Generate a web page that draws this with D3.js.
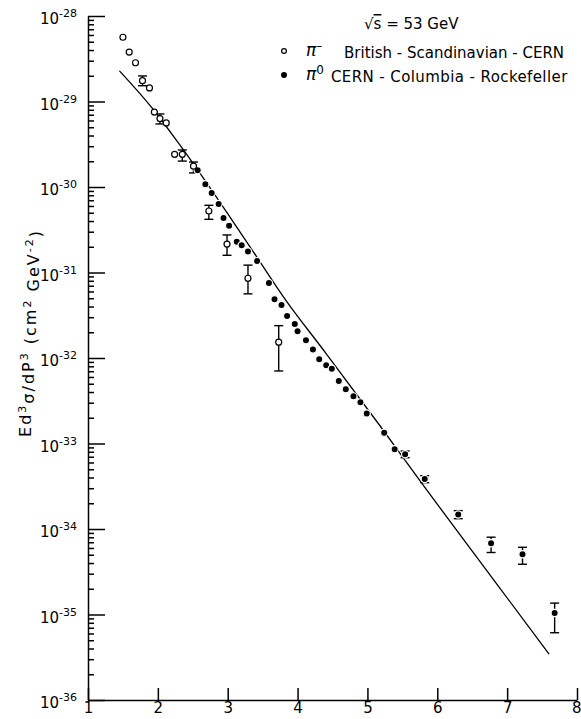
<!DOCTYPE html>
<html>
<head>
<meta charset="utf-8" />
<title>Invariant cross section at sqrt(s) = 53 GeV</title>
<style>
  body { margin: 0; background: #fff; }
  svg { font-family: "DejaVu Sans", sans-serif; }
  .axis path, .axis line { stroke: #000; stroke-width: 1.5; }
  .axis text { font-size: 15px; fill: #000; font-family: "DejaVu Sans", sans-serif; }
</style>
</head>
<body>
<script src="https://d3js.org/d3.v7.min.js"></script>
<script>

  // x ticks (p_T, GeV) and y decades (powers of ten)
  var xTicks = [1, 2, 3, 4, 5, 6, 7, 8];
  var yDecades = [-36, -35, -34, -33, -32, -31, -30, -29, -28];

  // pi- British-Scandinavian-CERN (open circles)
  var bscPt  = [1.50, 1.59, 1.68, 1.78, 1.88, 1.95, 2.03, 2.12, 2.24, 2.35, 2.51, 2.73, 2.99, 3.29, 3.73];
  var bscVal = [5.64e-29, 3.79e-29, 2.84e-29, 1.75e-29, 1.44e-29, 7.53e-30, 6.32e-30, 5.61e-30,
                2.41e-30, 2.41e-30, 1.75e-30, 5.24e-31, 2.15e-31, 8.57e-32, 1.53e-32];
  var bscLo  = [null, null, null, 1.53e-29, null, null, 5.46e-30, null,
                null, 2.01e-30, 1.46e-30, 4.19e-31, 1.59e-31, 5.63e-32, 7.05e-33];
  var bscHi  = [null, null, null, 1.99e-29, null, null, 7.15e-30, null,
                null, 2.71e-30, 1.96e-30, 6.11e-31, 2.75e-31, 1.22e-31, 2.39e-32];

  // pi0 CERN-Columbia-Rockefeller (filled circles)
  var ccrPt  = [2.57, 2.68, 2.77, 2.87, 2.94, 3.02, 3.13, 3.20, 3.29, 3.42, 3.59, 3.67,
                3.77, 3.85, 3.96, 4.00, 4.12, 4.22, 4.31, 4.41, 4.49, 4.59, 4.69, 4.80,
                4.90, 4.99, 5.24, 5.39, 5.54, 5.82, 6.30, 6.77, 7.22, 7.68];
  var ccrVal = [1.57e-30, 1.08e-30, 8.51e-31, 6.33e-31, 4.34e-31, 3.52e-31, 2.29e-31, 2.08e-31,
                1.76e-31, 1.36e-31, 7.54e-32, 4.87e-32, 4.17e-32, 3.10e-32, 2.50e-32, 2.05e-32,
                1.61e-32, 1.26e-32, 9.68e-33, 8.22e-33, 7.48e-33, 5.38e-33, 4.32e-33, 3.56e-33,
                3.03e-33, 2.25e-33, 1.34e-33, 8.57e-34, 7.48e-34, 3.85e-34, 1.48e-34, 6.81e-35,
                5.07e-35, 1.04e-35];
  var ccrLo  = [null, null, null, null, null, null, null, null, null, null, null, null,
                null, null, null, null, null, null, null, null, null, null, null, null,
                null, null, null, null, 6.82e-34, 3.48e-34, 1.32e-34, 5.31e-35, 3.87e-35, 6.12e-36];
  var ccrHi  = [null, null, null, null, null, null, null, null, null, null, null, null,
                null, null, null, null, null, null, null, null, null, null, null, null,
                null, null, null, null, 8.17e-34, 4.20e-34, 1.64e-34, 8.02e-35, 6.11e-35, 1.36e-35];

  // fitted curve
  var fitPt  = [1.45, 1.94, 2.32, 3.35, 3.83, 4.37, 5.19, 5.84, 6.81, 7.60];
  var fitVal = [2.28e-29, 7.96e-30, 3.06e-30, 1.83e-31, 4.76e-32, 1.24e-32, 1.57e-33, 2.92e-34, 2.53e-35, 3.43e-36];

  var width = 581;
  var height = 719;

  var svg = d3.select("body").append("svg")
              .attr("width", width)
              .attr("height", height);

  var x = d3.scaleLinear().domain([1, 8]).range([88, 577]);
  var y = d3.scaleLog().domain([1e-36, 1e-28]).range([700, 16]);

  function zip(pt, val, lo, hi) {
    return pt.map((p, i) => ({pt: p, val: val[i], lo: lo ? lo[i] : null, hi: hi ? hi[i] : null}));
  }
  var bsc = zip(bscPt, bscVal, bscLo, bscHi);
  var ccr = zip(ccrPt, ccrVal, ccrLo, ccrHi);
  var fit = zip(fitPt, fitVal);

  // minor ticks on y
  var minorVals = [];
  yDecades.slice(0, -1).forEach(function(e) {
    for (var k = 2; k <= 9; k++) minorVals.push(k * Math.pow(10, e));
  });

  svg.append("g")
     .attr("class", "axis")
     .attr("transform", "translate(" + x(1) + ",0)")
     .call(d3.axisLeft(y).tickValues(minorVals).tickSizeInner(-6).tickSizeOuter(0).tickFormat(""))
     .call(g => g.select(".domain").remove());

  var yAxis = svg.append("g")
     .attr("class", "axis")
     .attr("transform", "translate(" + x(1) + ",0)")
     .call(d3.axisLeft(y)
             .tickValues(yDecades.map(e => Math.pow(10, e)))
             .tickSizeInner(-17).tickSizeOuter(0).tickPadding(11)
             .tickFormat(d => Math.round(Math.log10(d))));

  yAxis.selectAll(".tick text").each(function(d) {
    var t = d3.select(this);
    var e = Math.round(Math.log10(d));
    t.text("").attr("dy", "0.5em");
    t.append("tspan").text("10");
    t.append("tspan").attr("dy", "-0.6em").style("font-size", "11px").text("-" + (-e));
  });

  var xAxis = svg.append("g")
     .attr("class", "axis")
     .attr("transform", "translate(0," + y(1e-36) + ")")
     .call(d3.axisBottom(x).tickValues(xTicks).tickSizeInner(-12).tickSizeOuter(0).tickPadding(2)
             .tickFormat(d3.format("d")));
  // keep the last label inside the page
  xAxis.selectAll(".tick text").filter(d => d === 8).attr("text-anchor", "end").attr("x", 4);

  // y label
  var ylab = svg.append("text")
     .attr("transform", "translate(31,333) rotate(-90)")
     .attr("text-anchor", "middle")
     .style("font-size", "16px")
     .style("letter-spacing", "2px");
  ylab.append("tspan").text("Ed");
  ylab.append("tspan").attr("dy", "-0.5em").style("font-size", "11px").text("3");
  ylab.append("tspan").attr("dy", "0.5em").text("\u03c3/dP");
  ylab.append("tspan").attr("dy", "-0.5em").style("font-size", "11px").text("3");
  ylab.append("tspan").attr("dy", "0.5em").text("  (cm");
  ylab.append("tspan").attr("dy", "-0.5em").style("font-size", "11px").text("2");
  ylab.append("tspan").attr("dy", "0.5em").text("  GeV");
  ylab.append("tspan").attr("dy", "-0.5em").style("font-size", "11px").text("-2");
  ylab.append("tspan").attr("dy", "0.5em").text(")");

  // curve
  svg.append("path")
     .datum(fit)
     .attr("fill", "none")
     .attr("stroke", "#000")
     .attr("stroke-width", 1.3)
     .attr("d", d3.line().x(d => x(d.pt)).y(d => y(d.val)).curve(d3.curveMonotoneX));

  // error bars
  function errorBars(data, cap) {
    var g = svg.append("g").attr("stroke", "#000").attr("stroke-width", 1.4);
    var eb = g.selectAll("g").data(data.filter(d => d.lo !== null)).enter().append("g");
    eb.append("line")
      .attr("x1", d => x(d.pt)).attr("x2", d => x(d.pt))
      .attr("y1", d => y(d.lo)).attr("y2", d => y(d.hi));
    eb.append("line")
      .attr("x1", d => x(d.pt) - cap).attr("x2", d => x(d.pt) + cap)
      .attr("y1", d => y(d.lo)).attr("y2", d => y(d.lo));
    eb.append("line")
      .attr("x1", d => x(d.pt) - cap).attr("x2", d => x(d.pt) + cap)
      .attr("y1", d => y(d.hi)).attr("y2", d => y(d.hi));
  }
  errorBars(bsc, 4.5);
  errorBars(ccr, 4.5);

  svg.append("g").selectAll("circle")
     .data(ccr).enter().append("circle")
     .attr("cx", d => x(d.pt)).attr("cy", d => y(d.val))
     .attr("r", 3.6)
     .attr("fill", "#000")
     .attr("stroke", "#fff")
     .attr("stroke-width", 1.2);

  svg.append("g").selectAll("circle")
     .data(bsc).enter().append("circle")
     .attr("cx", d => x(d.pt)).attr("cy", d => y(d.val))
     .attr("r", 3)
     .attr("fill", "#fff")
     .attr("stroke", "#000")
     .attr("stroke-width", 1.2);

  // legend
  var leg = svg.append("g").style("font-size", "15px");
  var l1 = leg.append("text").attr("x", 364).attr("y", 29);
  l1.append("tspan").text("\u221a");
  l1.append("tspan").style("text-decoration", "overline").text("s");
  l1.append("tspan").text("  =  53  GeV");

  leg.append("circle").attr("cx", 284).attr("cy", 51).attr("r", 2.4)
     .attr("fill", "#fff").attr("stroke", "#000").attr("stroke-width", 1.2);
  var l2 = leg.append("text").attr("x", 306).attr("y", 56);
  l2.append("tspan").style("font-style", "italic").style("font-size", "17px").text("\u03c0");
  l2.append("tspan").attr("dy", "-0.5em").style("font-size", "12px").text("\u2013");
  l2.append("tspan").attr("dy", "0.5em").attr("x", 344).text("British - Scandinavian - CERN");

  leg.append("circle").attr("cx", 284).attr("cy", 75).attr("r", 3)
     .attr("fill", "#000");
  var l3 = leg.append("text").attr("x", 306).attr("y", 80);
  l3.append("tspan").style("font-style", "italic").style("font-size", "17px").text("\u03c0");
  l3.append("tspan").attr("dy", "-0.5em").style("font-size", "12px").text("0");
  l3.append("tspan").attr("dy", "0.5em").attr("x", 331).style("letter-spacing", "0.4px")
    .text("CERN - Columbia - Rockefeller");

</script>
</body>
</html>
